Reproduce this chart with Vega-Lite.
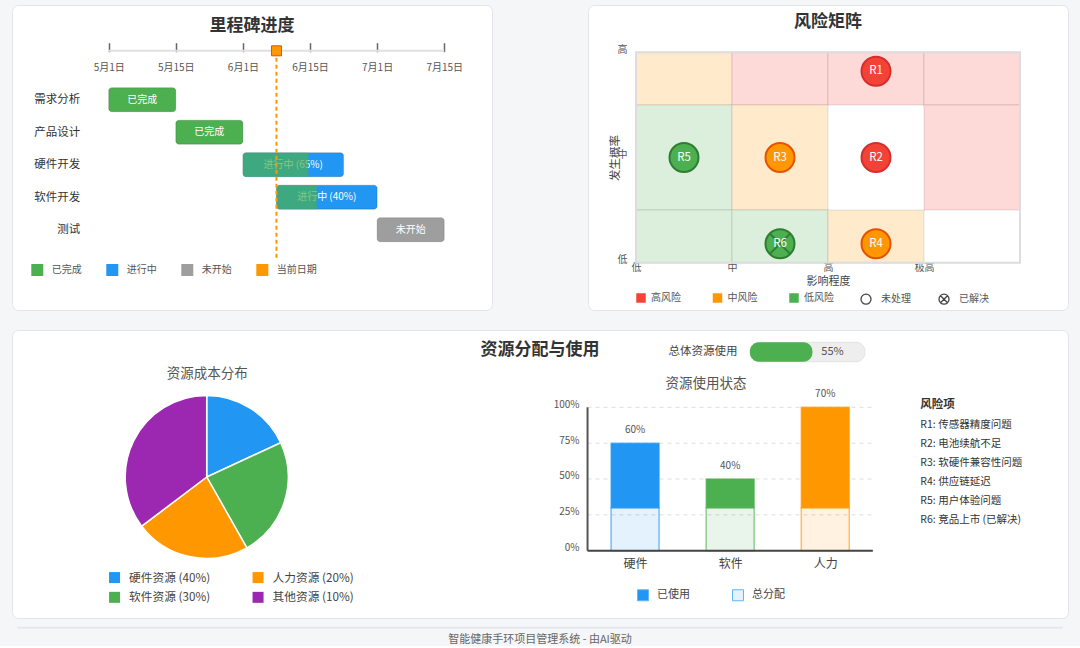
{
  "$schema": "https://vega.github.io/schema/vega-lite/v6.json",
  "background": "#f5f6f8",
  "padding": {"left": 11, "top": 4, "right": 12, "bottom": 0},
  "config": {
    "font": "Noto Sans CJK SC",
    "view": {"fill": "white", "stroke": "#e2e4e8", "strokeWidth": 1, "cornerRadius": 6},
    "axis": {"grid": false, "labelOverlap": false, "labelFlush": false, "title": null},
    "legend": {"padding": 0}
  },
  "spacing": 18,
  "resolve": {
    "scale": {"color": "independent", "fill": "independent", "stroke": "independent", "shape": "independent", "fillOpacity": "independent", "theta": "independent"},
    "legend": {"color": "independent", "fill": "independent", "stroke": "independent", "shape": "independent", "fillOpacity": "independent"}
  },
  "vconcat": [
    {
      "spacing": 94,
      "resolve": {
        "scale": {"color": "independent", "fill": "independent", "stroke": "independent", "shape": "independent"},
        "legend": {"color": "independent", "fill": "independent", "stroke": "independent", "shape": "independent"}
      },
      "hconcat": [
        {
          "width": 480,
          "height": 305,
          "data": {"values": [
            {"task": "需求分析", "row": 0, "start": 0, "end": 1, "mid": 0.5, "status": "已完成", "label": "已完成"},
            {"task": "产品设计", "row": 1, "start": 1, "end": 2, "mid": 1.5, "status": "已完成", "label": "已完成"},
            {"task": "硬件开发", "row": 2, "start": 2, "end": 3.5, "mid": 2.75, "done": 2.975, "status": "进行中", "label": "进行中 (65%)"},
            {"task": "软件开发", "row": 3, "start": 2.5, "end": 4, "mid": 3.25, "done": 3.1, "status": "进行中", "label": "进行中 (40%)"},
            {"task": "测试", "row": 4, "start": 4, "end": 5, "mid": 4.5, "status": "未开始", "label": "未开始"}
          ]},
          "layer": [
            {
              "mark": {"type": "bar", "orient": "horizontal", "size": 24, "cornerRadius": 3, "stroke": "#000", "strokeOpacity": 0.15, "strokeWidth": 1},
              "encoding": {
                "y": {"field": "row", "type": "quantitative", "scale": {"domain": [-2.759, 6.318], "nice": false, "zero": false, "reverse": true},
                  "axis": {"orient": "left", "offset": -71.7, "values": [0, 1, 2, 3, 4], "labelExpr": "['需求分析','产品设计','硬件开发','软件开发','测试'][datum.value]", "domain": false, "ticks": false, "labelPadding": 4, "labelFontSize": 11.5, "labelColor": "#333", "title": null}},
                "x": {"field": "start", "type": "quantitative", "scale": {"domain": [-1.441, 5.712], "nice": false, "zero": false},
                  "axis": {"orient": "bottom", "offset": -267.3, "values": [0, 1, 2, 3, 4, 5], "labelExpr": "['5月1日','5月15日','6月1日','6月15日','7月1日','7月15日'][datum.value]", "domain": false, "ticks": true, "tickSize": 9, "tickColor": "#666", "tickWidth": 1.5, "labelPadding": 10.5, "labelFontSize": 10, "labelColor": "#555", "title": null}},
                "x2": {"field": "end"},
                "color": {"field": "status", "type": "nominal",
                  "scale": {"domain": ["已完成", "进行中", "未开始", "当前日期"], "range": ["#4caf50", "#2196f3", "#9e9e9e", "#ff9800"]},
                  "legend": {"orient": "none", "legendX": 19.3, "legendY": 259, "direction": "horizontal", "title": null, "symbolType": "square", "symbolSize": 144, "symbolStrokeWidth": 0, "labelFontSize": 10, "labelColor": "#555", "labelOffset": 8.4, "columnPadding": 24}}
              }
            },
            {
              "data": {"values": [{"t": "里程碑进度"}]},
              "mark": {"type": "text", "fontSize": 17, "fontWeight": "bold", "color": "#333", "align": "center", "baseline": "middle"},
              "encoding": {
                "text": {"field": "t"},
                "x": {"datum": 2.136, "type": "quantitative", "scale": {"domain": [-1.441, 5.712], "nice": false, "zero": false}},
                "y": {"datum": -2.253, "type": "quantitative", "scale": {"domain": [-2.759, 6.318], "nice": false, "zero": false, "reverse": true}}
              }
            },
            {
              "data": {"values": [{}]},
              "mark": {"type": "rule", "color": "#e0e0e0", "strokeWidth": 2},
              "encoding": {
                "x": {"datum": 0, "type": "quantitative", "scale": {"domain": [-1.441, 5.712], "nice": false, "zero": false}},
                "x2": {"datum": 5},
                "y": {"datum": -1.503, "type": "quantitative", "scale": {"domain": [-2.759, 6.318], "nice": false, "zero": false, "reverse": true}}
              }
            },
            {
              "mark": {"type": "text", "color": "white", "fontSize": 10, "align": "center", "baseline": "middle"},
              "encoding": {
                "text": {"field": "label"},
                "x": {"field": "mid", "type": "quantitative", "scale": {"domain": [-1.441, 5.712], "nice": false, "zero": false}},
                "y": {"field": "row", "type": "quantitative", "scale": {"domain": [-2.759, 6.318], "nice": false, "zero": false, "reverse": true}}
              }
            },
            {
              "transform": [{"filter": "isValid(datum.done)"}],
              "mark": {"type": "bar", "orient": "horizontal", "size": 24, "cornerRadiusTopLeft": 3, "cornerRadiusBottomLeft": 3, "color": "#4caf50", "opacity": 0.7},
              "encoding": {
                "y": {"field": "row", "type": "quantitative", "scale": {"domain": [-2.759, 6.318], "nice": false, "zero": false, "reverse": true}},
                "x": {"field": "start", "type": "quantitative", "scale": {"domain": [-1.441, 5.712], "nice": false, "zero": false}},
                "x2": {"field": "done"}
              }
            },
            {
              "data": {"values": [{}]},
              "mark": {"type": "rule", "color": "#ff9800", "strokeWidth": 2, "strokeDash": [4, 3]},
              "encoding": {
                "x": {"datum": 2.5, "type": "quantitative", "scale": {"domain": [-1.441, 5.712], "nice": false, "zero": false}},
                "y": {"datum": -1.503, "type": "quantitative", "scale": {"domain": [-2.759, 6.318], "nice": false, "zero": false, "reverse": true}},
                "y2": {"datum": 4.93}
              }
            },
            {
              "data": {"values": [{"status": "当前日期", "pos": 2.5}]},
              "mark": {"type": "point", "shape": "square", "filled": true, "size": 100, "stroke": "#e65100", "strokeWidth": 1, "opacity": 1},
              "encoding": {
                "x": {"field": "pos", "type": "quantitative", "scale": {"domain": [-1.441, 5.712], "nice": false, "zero": false}},
                "y": {"datum": -1.503, "type": "quantitative", "scale": {"domain": [-2.759, 6.318], "nice": false, "zero": false, "reverse": true}},
                "color": {"field": "status", "type": "nominal", "scale": {"domain": ["已完成", "进行中", "未开始", "当前日期"], "range": ["#4caf50", "#2196f3", "#9e9e9e", "#ff9800"]}, "legend": null}
              }
            }
          ]
        },
        {
          "width": 480,
          "height": 305,
          "data": {"values": [
            {"id": "R1", "impact": 2.5, "prob": 0.91, "level": "高风险", "status": "未处理"},
            {"id": "R2", "impact": 2.5, "prob": 0.5, "level": "高风险", "status": "未处理"},
            {"id": "R3", "impact": 1.5, "prob": 0.5, "level": "中风险", "status": "未处理"},
            {"id": "R4", "impact": 2.5, "prob": 0.09, "level": "中风险", "status": "未处理"},
            {"id": "R5", "impact": 0.5, "prob": 0.5, "level": "低风险", "status": "未处理"},
            {"id": "R6", "impact": 1.5, "prob": 0.09, "level": "低风险", "status": "已解决"}
          ]},
          "layer": [
            {
              "data": {"values": [
                {"x0": 0, "x1": 1, "y0": 0.75, "y1": 1, "zone": "中风险"},
                {"x0": 1, "x1": 2, "y0": 0.75, "y1": 1, "zone": "高风险"},
                {"x0": 2, "x1": 3, "y0": 0.75, "y1": 1, "zone": "高风险"},
                {"x0": 3, "x1": 4, "y0": 0.75, "y1": 1, "zone": "高风险"},
                {"x0": 0, "x1": 1, "y0": 0.25, "y1": 0.75, "zone": "低风险"},
                {"x0": 1, "x1": 2, "y0": 0.25, "y1": 0.75, "zone": "中风险"},
                {"x0": 3, "x1": 4, "y0": 0.25, "y1": 0.75, "zone": "高风险"},
                {"x0": 0, "x1": 1, "y0": 0, "y1": 0.25, "zone": "低风险"},
                {"x0": 1, "x1": 2, "y0": 0, "y1": 0.25, "zone": "低风险"},
                {"x0": 2, "x1": 3, "y0": 0, "y1": 0.25, "zone": "中风险"}
              ]},
              "mark": {"type": "rect", "stroke": "#000", "strokeOpacity": 0.05, "strokeWidth": 2},
              "encoding": {
                "x": {"field": "x0", "type": "quantitative", "scale": {"domain": [-0.5, 4.5], "nice": false, "zero": false},
                  "axis": {"orient": "bottom", "offset": -47.3, "values": [0, 1, 2, 3], "labelExpr": "['低','中','高','极高'][datum.value]", "domain": false, "ticks": false, "labelPadding": 0, "labelFontSize": 10, "labelColor": "#555", "title": "影响程度", "titleFontSize": 11, "titleFontWeight": "normal", "titleColor": "#444", "titlePadding": 2.5}},
                "x2": {"field": "x1"},
                "y": {"field": "y0", "type": "quantitative", "scale": {"domain": [-0.2248, 1.2248], "nice": false, "zero": false},
                  "axis": {"orient": "left", "offset": -48, "values": [0, 0.5, 1], "labelExpr": "['低','中','高'][round(datum.value*2)]", "domain": false, "ticks": false, "labelPadding": 9, "labelFontSize": 10, "labelColor": "#555", "labelBaseline": "alphabetic", "title": "发生概率", "titleFontSize": 11.5, "titleFontWeight": "normal", "titleColor": "#444", "titlePadding": -3}},
                "y2": {"field": "y1"},
                "color": {"field": "zone", "type": "nominal", "scale": {"range": ["#ffeacc", "#dbefdc", "#fdd9d7"]}, "legend": null}
              }
            },
            {
              "data": {"values": [{"t": "风险矩阵"}]},
              "mark": {"type": "text", "fontSize": 17, "fontWeight": "bold", "color": "#333", "align": "center", "baseline": "middle"},
              "encoding": {
                "text": {"field": "t"},
                "x": {"datum": 2.0, "type": "quantitative", "scale": {"domain": [-0.5, 4.5], "nice": false, "zero": false}},
                "y": {"datum": 1.144, "type": "quantitative", "scale": {"domain": [-0.2248, 1.2248], "nice": false, "zero": false}}
              }
            },
            {
              "data": {"values": [{}]},
              "mark": {"type": "rect", "fill": "transparent", "stroke": "#dddddd", "strokeWidth": 2},
              "encoding": {
                "x": {"datum": 0, "type": "quantitative", "scale": {"domain": [-0.5, 4.5], "nice": false, "zero": false}},
                "x2": {"datum": 4},
                "y": {"datum": 0, "type": "quantitative", "scale": {"domain": [-0.2248, 1.2248], "nice": false, "zero": false}},
                "y2": {"datum": 1}
              }
            },
            {
              "mark": {"type": "point", "filled": true, "size": 841, "strokeWidth": 2, "opacity": 1},
              "encoding": {
                "x": {"field": "impact", "type": "quantitative", "scale": {"domain": [-0.5, 4.5], "nice": false, "zero": false}},
                "y": {"field": "prob", "type": "quantitative", "scale": {"domain": [-0.2248, 1.2248], "nice": false, "zero": false}},
                "fill": {"field": "level", "type": "nominal", "scale": {"domain": ["高风险", "中风险", "低风险"], "range": ["#f44336", "#ff9800", "#4caf50"]},
                  "legend": {"orient": "none", "legendX": 48, "legendY": 288, "direction": "horizontal", "title": null, "symbolType": "square", "symbolSize": 90, "symbolStrokeColor": "transparent", "symbolStrokeWidth": 0, "labelFontSize": 10, "labelColor": "#555", "labelOffset": 5, "columnPadding": 31.5}},
                "stroke": {"field": "level", "type": "nominal", "scale": {"range": ["#e65100", "#2e7d32", "#d32f2f"]}, "legend": null},
                "shape": {"field": "status", "type": "nominal", "sort": "descending", "scale": {"range": ["circle", "M-1,0A1,1,0,1,1,1,0A1,1,0,1,1,-1,0ZM-0.7,-0.7L0.7,0.7M0.7,-0.7L-0.7,0.7"]},
                  "legend": {"orient": "none", "legendX": 272, "legendY": 288, "direction": "horizontal", "title": null, "symbolSize": 100, "symbolFillColor": "white", "symbolStrokeColor": "#444", "symbolStrokeWidth": 1.3, "labelFontSize": 10, "labelColor": "#555", "labelOffset": 9, "columnPadding": 25}}
              }
            },
            {
              "mark": {"type": "text", "color": "white", "fontSize": 11.5, "align": "center", "baseline": "middle"},
              "encoding": {
                "text": {"field": "id"},
                "x": {"field": "impact", "type": "quantitative", "scale": {"domain": [-0.5, 4.5], "nice": false, "zero": false}},
                "y": {"field": "prob", "type": "quantitative", "scale": {"domain": [-0.2248, 1.2248], "nice": false, "zero": false}}
              }
            }
          ]
        }
      ]
    },
    {
      "width": 1056,
      "height": 288,
      "data": {"values": [
        {"cat": "硬件", "i": 0, "res": "硬件资源 (40%)", "kind": "总分配", "lo": 0, "hi": 30},
        {"cat": "软件", "i": 1, "res": "软件资源 (30%)", "kind": "总分配", "lo": 0, "hi": 30},
        {"cat": "人力", "i": 2, "res": "人力资源 (20%)", "kind": "总分配", "lo": 0, "hi": 30},
        {"cat": "硬件", "i": 0, "res": "硬件资源 (40%)", "kind": "已使用", "lo": 30, "hi": 75, "pct": "60%"},
        {"cat": "软件", "i": 1, "res": "软件资源 (30%)", "kind": "已使用", "lo": 30, "hi": 50, "pct": "40%"},
        {"cat": "人力", "i": 2, "res": "人力资源 (20%)", "kind": "已使用", "lo": 30, "hi": 100, "pct": "70%"}
      ]},
      "layer": [
        {
          "data": {"values": [{"v": 25}, {"v": 50}, {"v": 75}, {"v": 100}]},
          "mark": {"type": "rule", "color": "#dddddd", "strokeWidth": 1, "strokeDash": [4, 4]},
          "encoding": {
            "x": {"datum": -0.5, "type": "quantitative", "scale": {"domain": [-6.5, 4.5], "nice": false, "zero": false},
              "axis": {"orient": "bottom", "offset": -67.3, "values": [0, 1, 2], "labelExpr": "['硬件','软件','人力'][datum.value]", "domain": false, "ticks": false, "labelPadding": 8, "labelFontSize": 12, "labelColor": "#444", "title": null}},
            "x2": {"datum": 2.5},
            "y": {"field": "v", "type": "quantitative", "scale": {"domain": [-46.93, 153.9], "nice": false, "zero": false},
              "axis": {"orient": "left", "offset": -576, "values": [0, 25, 50, 75, 100], "labelExpr": "datum.value + '%'", "domain": false, "ticks": false, "labelPadding": 9, "labelFontSize": 10, "labelColor": "#555", "labelBaseline": "alphabetic", "title": null}}
          }
        },
        {
          "mark": {"type": "bar", "size": 48, "strokeWidth": 1.5, "strokeOpacity": 0.6},
          "encoding": {
            "x": {"field": "i", "type": "quantitative", "scale": {"domain": [-6.5, 4.5], "nice": false, "zero": false}},
            "y": {"field": "lo", "type": "quantitative", "scale": {"domain": [-46.93, 153.9], "nice": false, "zero": false}},
            "y2": {"field": "hi"},
            "fillOpacity": {"field": "kind", "type": "nominal", "scale": {"range": [1, 0.12]}, "legend": null},
            "color": {"field": "res", "type": "nominal", "scale": {"domain": ["硬件资源 (40%)", "人力资源 (20%)", "软件资源 (30%)", "其他资源 (10%)"], "range": ["#2196f3", "#ff9800", "#4caf50", "#9c27b0"]},
              "legend": {"orient": "none", "legendX": 96.7, "legendY": 241.5, "direction": "horizontal", "columns": 2, "title": null, "symbolType": "square", "symbolSize": 121, "symbolStrokeWidth": 0, "symbolStrokeColor": "transparent", "labelFontSize": 11.7, "labelColor": "#444", "labelOffset": 8.7, "columnPadding": 41.5, "rowPadding": 7}},
            "stroke": {"field": "res", "type": "nominal", "scale": {"domain": ["硬件资源 (40%)", "人力资源 (20%)", "软件资源 (30%)", "其他资源 (10%)"], "range": ["#2196f3", "#ff9800", "#4caf50", "#9c27b0"]}, "legend": null}
          }
        },
        {
          "data": {"values": [{"kind": "已使用"}, {"kind": "总分配"}]},
          "mark": {"type": "point", "filled": true, "size": 0, "opacity": 1},
          "encoding": {
            "x": {"datum": -4.505, "type": "quantitative", "scale": {"domain": [-6.5, 4.5], "nice": false, "zero": false}},
            "y": {"datum": 51.4, "type": "quantitative", "scale": {"domain": [-46.93, 153.9], "nice": false, "zero": false}},
            "fill": {"field": "kind", "type": "nominal", "scale": {"domain": ["已使用", "总分配"], "range": ["#2196f3", "#e3f2fd"]},
              "legend": {"orient": "none", "legendX": 625, "legendY": 259, "direction": "horizontal", "title": null, "symbolType": "square", "symbolSize": 121, "symbolOpacity": 1, "symbolStrokeColor": "#64b5f6", "symbolStrokeWidth": 1, "labelFontSize": 11, "labelColor": "#444", "labelOffset": 8, "columnPadding": 40}}
          }
        },
        {
          "data": {"values": [
            {"res": "硬件资源 (40%)", "v": 18.1, "o": 1},
            {"res": "软件资源 (30%)", "v": 23.7, "o": 2},
            {"res": "人力资源 (20%)", "v": 22.9, "o": 3},
            {"res": "其他资源 (10%)", "v": 35.3, "o": 4}
          ]},
          "mark": {"type": "arc", "radius": 81.5, "stroke": "white", "strokeWidth": 1.5},
          "encoding": {
            "theta": {"field": "v", "type": "quantitative", "stack": true},
            "order": {"field": "o", "type": "quantitative"},
            "x": {"datum": -4.505, "type": "quantitative", "scale": {"domain": [-6.5, 4.5], "nice": false, "zero": false}},
            "y": {"datum": 51.4, "type": "quantitative", "scale": {"domain": [-46.93, 153.9], "nice": false, "zero": false}},
            "color": {"field": "res", "type": "nominal",
              "scale": {"domain": ["硬件资源 (40%)", "人力资源 (20%)", "软件资源 (30%)", "其他资源 (10%)"], "range": ["#2196f3", "#ff9800", "#4caf50", "#9c27b0"]}, "legend": null}
          }
        },
        {
          "data": {"values": [{"t": "资源分配与使用"}]},
          "mark": {"type": "text", "fontSize": 17, "fontWeight": "bold", "color": "#333", "align": "center", "baseline": "middle"},
          "encoding": {
            "text": {"field": "t"},
            "x": {"datum": -1.0, "type": "quantitative", "scale": {"domain": [-6.5, 4.5], "nice": false, "zero": false}},
            "y": {"datum": 140.0, "type": "quantitative", "scale": {"domain": [-46.93, 153.9], "nice": false, "zero": false}}
          }
        },
        {
          "data": {"values": [{"t": "总体资源使用"}]},
          "mark": {"type": "text", "fontSize": 11.5, "color": "#444", "align": "center", "baseline": "middle"},
          "encoding": {
            "text": {"field": "t"},
            "x": {"datum": 0.715, "type": "quantitative", "scale": {"domain": [-6.5, 4.5], "nice": false, "zero": false}},
            "y": {"datum": 138.6, "type": "quantitative", "scale": {"domain": [-46.93, 153.9], "nice": false, "zero": false}}
          }
        },
        {
          "data": {"values": [{}]},
          "mark": {"type": "rect", "fill": "#eeeeee", "stroke": "#e2e2e2", "strokeWidth": 1, "cornerRadius": 9},
          "encoding": {
            "x": {"datum": 1.208, "type": "quantitative", "scale": {"domain": [-6.5, 4.5], "nice": false, "zero": false}},
            "x2": {"datum": 2.417},
            "y": {"datum": 145.3, "type": "quantitative", "scale": {"domain": [-46.93, 153.9], "nice": false, "zero": false}},
            "y2": {"datum": 131.8}
          }
        },
        {
          "data": {"values": [{}]},
          "mark": {"type": "rect", "fill": "#4caf50", "cornerRadius": 9},
          "encoding": {
            "x": {"datum": 1.208, "type": "quantitative", "scale": {"domain": [-6.5, 4.5], "nice": false, "zero": false}},
            "x2": {"datum": 1.865},
            "y": {"datum": 145.3, "type": "quantitative", "scale": {"domain": [-46.93, 153.9], "nice": false, "zero": false}},
            "y2": {"datum": 131.8}
          }
        },
        {
          "data": {"values": [{"t": "55%"}]},
          "mark": {"type": "text", "fontSize": 11, "color": "#555", "align": "left", "baseline": "middle"},
          "encoding": {
            "text": {"field": "t"},
            "x": {"datum": 1.958, "type": "quantitative", "scale": {"domain": [-6.5, 4.5], "nice": false, "zero": false}},
            "y": {"datum": 138.6, "type": "quantitative", "scale": {"domain": [-46.93, 153.9], "nice": false, "zero": false}}
          }
        },
        {
          "data": {"values": [{"t": "资源成本分布"}]},
          "mark": {"type": "text", "fontSize": 13.5, "color": "#555", "align": "center", "baseline": "middle"},
          "encoding": {
            "text": {"field": "t"},
            "x": {"datum": -4.5, "type": "quantitative", "scale": {"domain": [-6.5, 4.5], "nice": false, "zero": false}},
            "y": {"datum": 123.2, "type": "quantitative", "scale": {"domain": [-46.93, 153.9], "nice": false, "zero": false}}
          }
        },
        {
          "data": {"values": [{"t": "资源使用状态"}]},
          "mark": {"type": "text", "fontSize": 13.5, "color": "#555", "align": "center", "baseline": "middle"},
          "encoding": {
            "text": {"field": "t"},
            "x": {"datum": 0.745, "type": "quantitative", "scale": {"domain": [-6.5, 4.5], "nice": false, "zero": false}},
            "y": {"datum": 116.4, "type": "quantitative", "scale": {"domain": [-46.93, 153.9], "nice": false, "zero": false}}
          }
        },
        {
          "transform": [{"filter": "isValid(datum.pct)"}],
          "mark": {"type": "text", "fontSize": 10, "color": "#555", "align": "center", "baseline": "middle", "dy": -13},
          "encoding": {
            "text": {"field": "pct"},
            "x": {"field": "i", "type": "quantitative", "scale": {"domain": [-6.5, 4.5], "nice": false, "zero": false}},
            "y": {"field": "hi", "type": "quantitative", "scale": {"domain": [-46.93, 153.9], "nice": false, "zero": false}}
          }
        },
        {
          "data": {"values": [{}]},
          "mark": {"type": "rule", "color": "#555", "strokeWidth": 2},
          "encoding": {
            "x": {"datum": -0.5, "type": "quantitative", "scale": {"domain": [-6.5, 4.5], "nice": false, "zero": false}},
            "y": {"datum": 0, "type": "quantitative", "scale": {"domain": [-46.93, 153.9], "nice": false, "zero": false}},
            "y2": {"datum": 100}
          }
        },
        {
          "data": {"values": [{}]},
          "mark": {"type": "rule", "color": "#444", "strokeWidth": 2},
          "encoding": {
            "x": {"datum": -0.5, "type": "quantitative", "scale": {"domain": [-6.5, 4.5], "nice": false, "zero": false}},
            "x2": {"datum": 2.5},
            "y": {"datum": 0, "type": "quantitative", "scale": {"domain": [-46.93, 153.9], "nice": false, "zero": false}}
          }
        },
        {
          "data": {"values": [{"t": "风险项"}]},
          "mark": {"type": "text", "fontSize": 11.5, "fontWeight": "bold", "color": "#333", "align": "left", "baseline": "middle"},
          "encoding": {
            "text": {"field": "t"},
            "x": {"datum": 3.0, "type": "quantitative", "scale": {"domain": [-6.5, 4.5], "nice": false, "zero": false}},
            "y": {"datum": 101.6, "type": "quantitative", "scale": {"domain": [-46.93, 153.9], "nice": false, "zero": false}}
          }
        },
        {
          "data": {"values": [{}]},
          "mark": {"type": "text", "fontSize": 10.5, "color": "#333", "align": "left", "baseline": "top", "lineHeight": 18.9,
            "text": ["R1: 传感器精度问题", "R2: 电池续航不足", "R3: 软硬件兼容性问题", "R4: 供应链延迟", " R5: 用户体验问题", " R6: 竞品上市 (已解决)"]},
          "encoding": {
            "x": {"datum": 3.0, "type": "quantitative", "scale": {"domain": [-6.5, 4.5], "nice": false, "zero": false}},
            "y": {"datum": 91.0, "type": "quantitative", "scale": {"domain": [-46.93, 153.9], "nice": false, "zero": false}}
          }
        },
        {
          "data": {"values": [{}]},
          "mark": {"type": "rule", "color": "#e6e7ea", "strokeWidth": 2},
          "encoding": {
            "x": {"datum": -6.5, "type": "quantitative", "scale": {"domain": [-6.5, 4.5], "nice": false, "zero": false}},
            "x2": {"datum": 4.5},
            "y": {"datum": -53.7, "type": "quantitative", "scale": {"domain": [-46.93, 153.9], "nice": false, "zero": false}}
          }
        },
        {
          "data": {"values": [{"t": "智能健康手环项目管理系统 - 由AI驱动"}]},
          "mark": {"type": "text", "fontSize": 11, "color": "#666", "align": "center", "baseline": "middle"},
          "encoding": {
            "text": {"field": "t"},
            "x": {"datum": -1.0, "type": "quantitative", "scale": {"domain": [-6.5, 4.5], "nice": false, "zero": false}},
            "y": {"datum": -62.2, "type": "quantitative", "scale": {"domain": [-46.93, 153.9], "nice": false, "zero": false}}
          }
        }
      ]
    }
  ]
}
